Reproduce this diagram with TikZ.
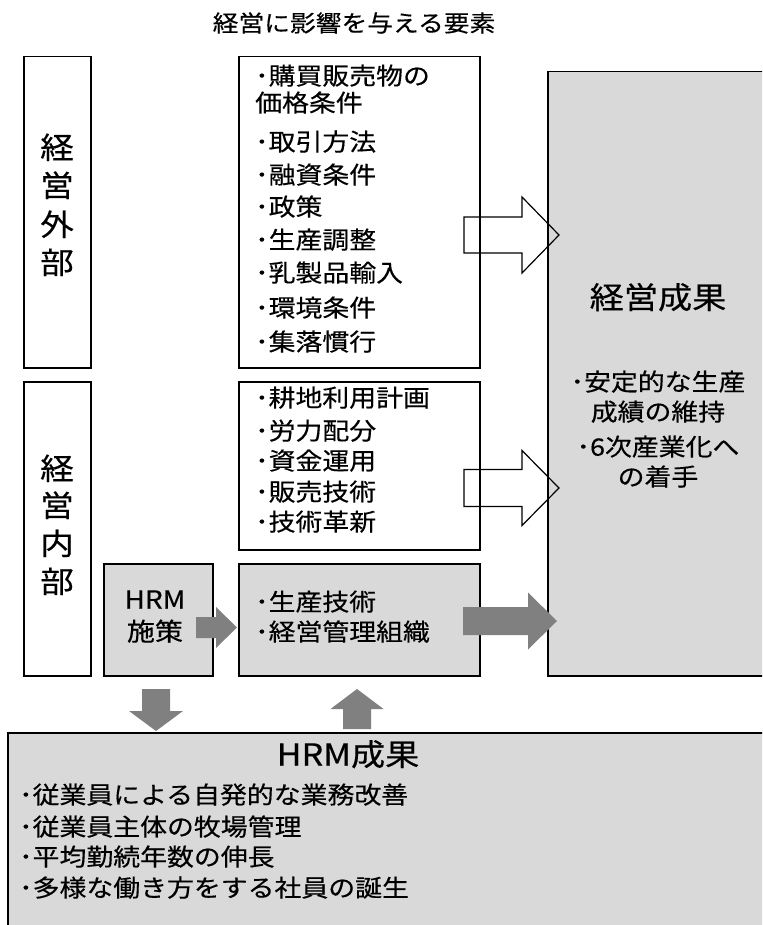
\documentclass[tikz,border=0pt]{standalone}
\usepackage{fontspec}
\setmainfont{Noto Sans CJK JP}[FakeStretch=1.12,FakeBold=0.4]
\usetikzlibrary{calc}
\definecolor{boxgray}{HTML}{D9D9D9}
\definecolor{arrowgray}{HTML}{808080}
\tikzset{
  box/.style={draw=black, line width=1.5pt, inner sep=0pt, anchor=north west},
  graybox/.style={box, fill=boxgray},
  txt/.style={inner sep=0pt, text height=0.82em, text depth=0.08em},
  body/.style={txt, anchor=west, font=\fontsize{24}{28}\selectfont},
  bodyc/.style={txt, anchor=center, font=\fontsize{24}{28}\selectfont},
  vlab/.style={txt, anchor=center, font=\fontsize{30}{34}\selectfont},
  big/.style={txt, anchor=center, font=\fontsize{30.5}{34}\selectfont},
  outarrow/.style={draw=black, line width=1.2pt, line join=miter},
  grayarrow/.style={fill=arrowgray, draw=none},
}
% #1 style, #2 tail, #3 tip, #4 shaft half width, #5 head half width, #6 head base offset
\newcommand\myharrow[6]{%
  \draw[#1] ($(#2)+(0,-#4)$) -- ($(#3)+(#6,-#4)$) -- ($(#3)+(#6,-#5)$) -- (#3)
    -- ($(#3)+(#6,#5)$) -- ($(#3)+(#6,#4)$) -- ($(#2)+(0,#4)$) -- cycle;}
\newcommand\myvarrow[6]{%
  \draw[#1] ($(#2)+(-#4,0)$) -- ($(#3)+(-#4,#6)$) -- ($(#3)+(-#5,#6)$) -- (#3)
    -- ($(#3)+(#5,#6)$) -- ($(#3)+(#4,#6)$) -- ($(#2)+(#4,0)$) -- cycle;}
\begin{document}
\begin{tikzpicture}[x=1pt,y=-1pt]
\useasboundingbox (0,0) rectangle (762,925);
\clip (0,0) rectangle (762,925);

% title
\node[txt, anchor=center, font=\fontsize{23}{27}\selectfont] (title) at (354,28) {経営に影響を与える要素};

% boxes
\node[box, minimum width=67, minimum height=311] (ext) at (23,56) {};
\node[box, minimum width=241, minimum height=311] (mid1) at (238,56) {};
\node[graybox, minimum width=240, minimum height=604] (res) at (547,71) {};
\node[box, minimum width=67, minimum height=294] (int) at (23,381) {};
\node[box, minimum width=241, minimum height=168] (mid2) at (238,381) {};
\node[graybox, minimum width=109, minimum height=112] (hrm) at (103,563) {};
\node[graybox, minimum width=241, minimum height=112] (tech) at (238,563) {};
\node[graybox, minimum width=780, minimum height=220] (hres) at (7,732) {};

% vertical labels
\foreach \t/\y [count=\i] in {経/155,営/193,外/232,部/270}
  \node[vlab] (ev\i) at (57,\y) {\t};
\foreach \t/\y [count=\i] in {経/476,営/513,内/551,部/589}
  \node[vlab] (iv\i) at (57,\y) {\t};

% middle top box
\foreach \t/\y [count=\i] in {･購買販売物の/81,価格条件/108,･取引方法/147,･融資条件/180,･政策/212,･生産調整/245,･乳製品輸入/278,･環境条件/313,･集落慣行/347}
  \node[body] (ma\i) at (255,\y) {\t};

% middle second box
\foreach \t/\y [count=\i] in {･耕地利用計画/403,･労力配分/436,･資金運用/466,･販売技術/497,･技術革新/527}
  \node[body] (mb\i) at (255,\y) {\t};

% tech box
\node[body] (tc1) at (255,607) {･生産技術};
\node[body] (tc2) at (255,637) {･経営管理組織};

% HRM policy
\node[txt, anchor=center, font=\fontsize{25}{28}\selectfont] (hp1) at (155,605) {HRM};
\node[txt, anchor=center, font=\fontsize{25}{28}\selectfont] (hp2) at (155,637) {施策};

% result box
\node[big] (rtitle) at (658,305) {経営成果};
\foreach \t/\y [count=\i] in {･安定的な生産/387,成績の維持/417,･6次産業化へ/452,の着手/482}
  \node[bodyc] (rl\i) at (658,\y) {\t};

% HRM result box
\node[big] (htitle) at (348,762) {HRM成果};
\foreach \t/\y [count=\i] in {･従業員による自発的な業務改善/800,･従業員主体の牧場管理/832,･平均勤続年数の伸長/862,･多様な働き方をする社員の誕生/893}
  \node[body] (hl\i) at (19,\y) {\t};

% arrows
\coordinate (a1t) at (464,235); \coordinate (a1h) at (559,235);
\coordinate (a2t) at (464,488); \coordinate (a2h) at (559,488);
\coordinate (a3t) at (463,621); \coordinate (a3h) at (557,621);
\coordinate (a4t) at (196,627.5); \coordinate (a4h) at (237,627.5);
\coordinate (a5t) at (156,689); \coordinate (a5h) at (156,731);
\coordinate (a6t) at (357,729); \coordinate (a6h) at (357,689);

\myharrow{outarrow}{a1t}{a1h}{18}{38}{-37}
\myharrow{outarrow}{a2t}{a2h}{18.5}{37.5}{-37}
\myharrow{grayarrow}{a3t}{a3h}{14}{28.5}{-29}
\myharrow{grayarrow}{a4t}{a4h}{10.5}{20.5}{-21}
\myvarrow{grayarrow}{a5t}{a5h}{14}{27}{-20}
\myvarrow{grayarrow}{a6t}{a6h}{14}{26.5}{20}
\end{tikzpicture}
\end{document}
